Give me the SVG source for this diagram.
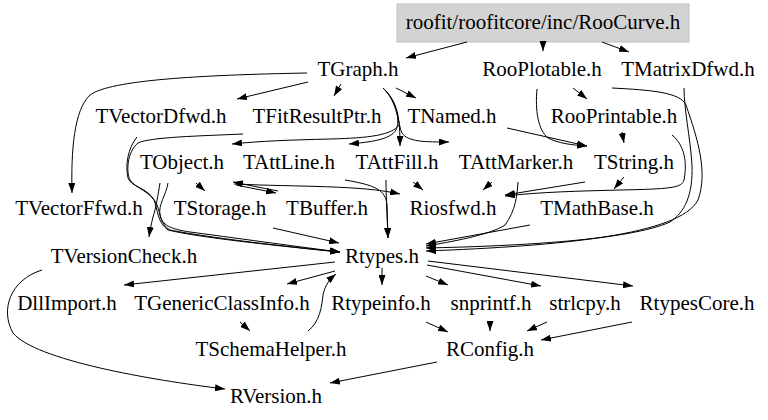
<svg xmlns="http://www.w3.org/2000/svg" width="768" height="420" viewBox="0 0 768 420">
<style>
text{font-family:"Liberation Serif","Times New Roman",serif;font-size:21px;fill:#000;text-anchor:middle}
.e path{fill:none;stroke:#000;stroke-width:1;marker-end:url(#ah)}
</style>
<defs>
<marker id="ah" markerWidth="10" markerHeight="7" refX="10" refY="3.5" orient="auto" markerUnits="userSpaceOnUse"><path d="M0,0 L10,3.5 L0,7 z" fill="#000"/></marker>
</defs>
<rect width="768" height="420" fill="#fff"/>
<g id="n_RooCurve"><rect x="397" y="4" width="292" height="38" fill="#d3d3d3" stroke="#bfbfbf"/><text x="543" y="29">roofit/roofitcore/inc/RooCurve.h</text></g>
<g id="n_TGraph"><text x="358" y="76">TGraph.h</text></g>
<g id="n_RooPlotable"><text x="542" y="76">RooPlotable.h</text></g>
<g id="n_TMatrixDfwd"><text x="688" y="76">TMatrixDfwd.h</text></g>
<g id="n_TVectorDfwd"><text x="161" y="123">TVectorDfwd.h</text></g>
<g id="n_TFitResultPtr"><text x="317" y="123">TFitResultPtr.h</text></g>
<g id="n_TNamed"><text x="452" y="123">TNamed.h</text></g>
<g id="n_RooPrintable"><text x="614" y="123">RooPrintable.h</text></g>
<g id="n_TObject"><text x="182" y="169">TObject.h</text></g>
<g id="n_TAttLine"><text x="289" y="169">TAttLine.h</text></g>
<g id="n_TAttFill"><text x="397" y="169">TAttFill.h</text></g>
<g id="n_TAttMarker"><text x="516" y="169">TAttMarker.h</text></g>
<g id="n_TString"><text x="634" y="169">TString.h</text></g>
<g id="n_TVectorFfwd"><text x="79" y="215">TVectorFfwd.h</text></g>
<g id="n_TStorage"><text x="220" y="215">TStorage.h</text></g>
<g id="n_TBuffer"><text x="327" y="215">TBuffer.h</text></g>
<g id="n_Riosfwd"><text x="453" y="215">Riosfwd.h</text></g>
<g id="n_TMathBase"><text x="597" y="215">TMathBase.h</text></g>
<g id="n_TVersionCheck"><text x="124" y="263">TVersionCheck.h</text></g>
<g id="n_Rtypes"><text x="382" y="263">Rtypes.h</text></g>
<g id="n_DllImport"><text x="67" y="310">DllImport.h</text></g>
<g id="n_TGenericClassInfo"><text x="222" y="310">TGenericClassInfo.h</text></g>
<g id="n_Rtypeinfo"><text x="381" y="310">Rtypeinfo.h</text></g>
<g id="n_snprintf"><text x="491" y="310">snprintf.h</text></g>
<g id="n_strlcpy"><text x="585" y="310">strlcpy.h</text></g>
<g id="n_RtypesCore"><text x="697" y="310">RtypesCore.h</text></g>
<g id="n_TSchemaHelper"><text x="271" y="356">TSchemaHelper.h</text></g>
<g id="n_RConfig"><text x="490" y="356">RConfig.h</text></g>
<g id="n_RVersion"><text x="276" y="403">RVersion.h</text></g>
<g id="edges" class="e">
<path d="M467,42 L406,58"/>
<path d="M543,42 L543,51"/>
<path d="M602,42 L629,52"/>
<path d="M307,73 C200,75 110,80 90,95 C74,110 71,150 72,193"/>
<path d="M308,82 L237,99"/>
<path d="M341,84 L334,96"/>
<path d="M396,88 L416,98"/>
<path d="M383,88 C398,102 400,118 400,146"/>
<path d="M383,88 C398,102 398,125 402,133 C408,142 425,142 449,142"/>
<path d="M383,88 C398,102 400,122 396,130 C390,140 370,142 349,144"/>
<path d="M399,125 C392,135 370,138 330,139 C290,140 260,141 232,144"/>
<path d="M507,128 L587,146"/>
<path d="M573,88 L587,99"/>
<path d="M537,89 C535,110 538,130 548,138 C558,143 570,145 587,146"/>
<path d="M622,132 L624,143"/>
<path d="M612,88 C650,90 680,92 686,105 C698,140 708,172 698,200 C680,235 560,246 426,251"/>
<path d="M684,88 C684,110 690,135 692,165 C693,195 685,212 670,222 C630,240 520,246 426,248"/>
<path d="M672,135 C688,148 686,170 684,180 C682,188 670,189 620,190 C580,191 540,192 505,196"/>
<path d="M585,182 L505,195"/>
<path d="M624,177 L614,189"/>
<path d="M492,182 L483,190"/>
<path d="M518,182 C517,195 516,210 505,225 C490,235 450,242 426,246"/>
<path d="M413,182 L423,190"/>
<path d="M386,180 C386,195 387,215 388,238"/>
<path d="M234,184 C300,187 360,185 400,194"/>
<path d="M345,180 C375,185 386,190 387,205 L388,238"/>
<path d="M278,191 C262,188 248,185 233,182"/>
<path d="M236,185 C250,188 262,190 276,193"/>
<path d="M196,183 L205,191"/>
<path d="M160,183 C158,195 156,208 153,217 C151,225 150,230 149,237"/>
<path d="M168,183 C166,195 158,205 160,215 C162,225 170,229 190,232 C250,240 300,247 340,252"/>
<path d="M137,137 C128,148 125,165 128,178 C131,187 148,188 154,200 C158,210 157,222 168,230 C200,238 290,247 340,252"/>
<path d="M243,134 C200,136 150,137 138,143 C127,152 126,172 130,180 C135,188 152,192 157,205 C161,215 160,224 170,230 C210,238 290,247 340,252"/>
<path d="M273,228 L339,243"/>
<path d="M335,262 L124,285"/>
<path d="M335,271 L287,284"/>
<path d="M308,331 C320,322 322,305 323,295 C325,285 330,279 336,274"/>
<path d="M240,322 L250,331"/>
<path d="M382,268 L382,285"/>
<path d="M426,276 L448,285"/>
<path d="M427,265 L541,286"/>
<path d="M428,261 L633,286"/>
<path d="M426,322 L448,332"/>
<path d="M490,321 L490,331"/>
<path d="M547,322 L527,331"/>
<path d="M632,322 L541,340"/>
<path d="M42,270 C10,280 0,310 13,333 C35,360 150,380 225,389"/>
<path d="M437,362 L330,383"/>
<path d="M530,225 L426,244"/>
</g>
</svg>
